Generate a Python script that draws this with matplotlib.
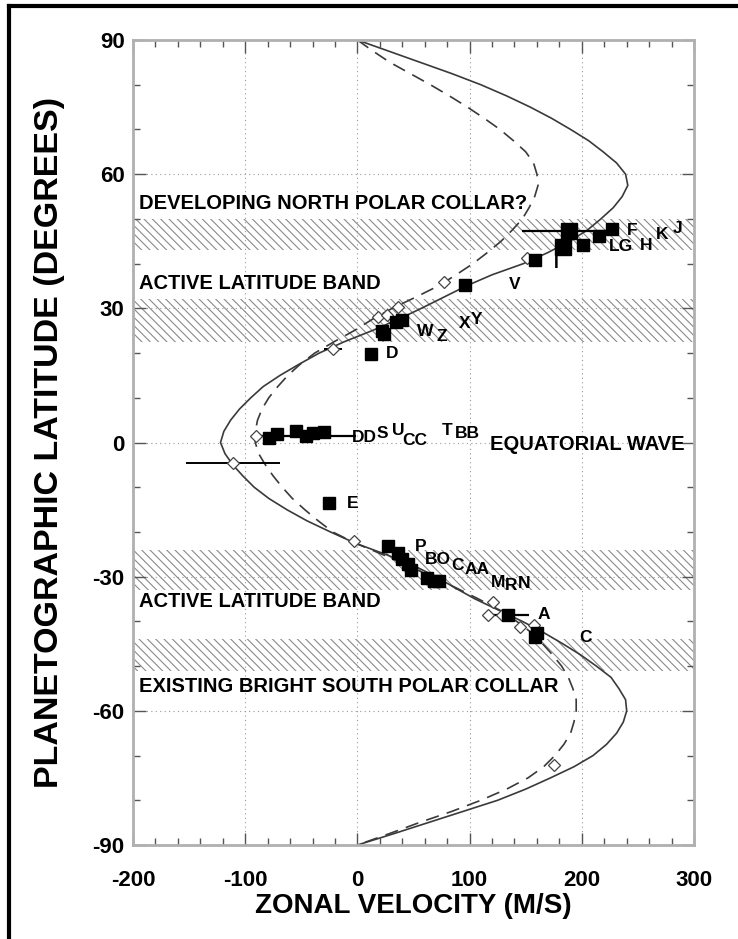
import numpy as np
import matplotlib
matplotlib.use("Agg")
import matplotlib.pyplot as plt

plt.rcParams['font.family'] = ['Liberation Sans', 'DejaVu Sans']
plt.rcParams['font.weight'] = 'bold'
plt.rcParams['hatch.linewidth'] = 0.8
plt.rcParams['axes.unicode_minus'] = False

# model profiles (every 2.5 degrees)
lat_grid = list(np.arange(90, -90.1, -2.5))
solid_u = [0, 28, 56, 84, 110, 133, 154, 173, 190, 206, 219, 231, 239, 241, 236, 228, 217, 205,
           189, 170, 148, 120, 97, 77, 57, 36, 13, -12, -34, -52, -69, -84, -95, -105, -113, -119,
           -122, -118, -111, -102, -92, -79, -63, -45, -24, -2, 25, 50, 70, 87, 105, 126, 147, 166,
           183, 199, 213, 226, 233, 239, 240, 237, 231, 222, 210, 193, 172, 150, 125, 94, 63, 32, 0]
dashed_u = [0, 14, 29, 47, 65, 82, 98, 113, 127, 139, 150, 157, 160, 161, 158, 153, 147, 138,
            128, 116, 103, 88, 72, 52, 31, 13, -3, -21, -38, -51, -62, -71, -79, -85, -89, -91,
            -91, -88, -82, -75, -67, -58, -47, -35, -22, -2, 22, 45, 66, 88, 108, 127, 142, 155,
            165, 174, 182, 188, 192, 195, 195, 193, 190, 184, 176, 166, 152, 133, 110, 84, 55, 28, 0]

# cloud features (filled squares)
sq_u = [227, 215, 201, 158, 96, 40, 34, 22, 24, 12,
        -79, -72, -55, -40, -30, -25,
        27, 36, 40, 45, 48, 62, 68, 73, 158, 160]
sq_lat = [47.8, 46.2, 44.1, 40.7, 35.3, 27.3, 27.0, 25.0, 24.2, 19.8,
          0.9, 1.9, 2.6, 2.2, 2.4, -13.6,
          -23.2, -24.7, -26.0, -27.2, -28.4, -30.4, -31.0, -30.9, -43.5, -42.6]
big_u = [189, 183]
big_lat = [47.3, 43.7]
# squares carrying an error bar
err_sq_u = [189, -46, 134.5]
err_sq_lat = [47.3, 1.5, -38.5]
err_sq_du = [42, 45, 18]

# diamonds
dia_u = [151, 77, 36, 18, 26, -21.5, -90, -111, -3, 121, 116, 129, 145, 157, 175]
dia_lat = [41.3, 35.8, 30.3, 28.0, 28.6, 20.8, 1.5, -4.6, -22.1, -35.6, -38.5, -38.5, -41.2, -40.9, -72]
dia_du = [0, 0, 0, 0, 0, 8, 0, 42, 3, 0, 0, 0, 0, 0, 3]

# feature labels
lab_txt = ["F", "LG", "H", "K", "J", "I", "V", "X", "Y", "W", "Z", "D",
           "DD", "S", "U", "CC", "T", "BB", "E",
           "P", "BO", "C", "AA", "M", "R", "N", "A", "C"]
lab_u = [245, 235, 257, 272, 285, 177, 140, 96, 106, 60, 75, 31,
         6, 22, 36, 51, 80, 98, -4.5,
         56, 72, 89.5, 106.5, 125, 137, 149, 166, 203]
lab_lat = [47.4, 43.8, 44.1, 46.4, 47.9, 40.0, 35.3, 26.6, 27.4, 24.8, 23.7, 19.8,
           1.1, 2.1, 2.6, 0.4, 2.6, 2.0, -13.6,
           -23.3, -26.2, -27.4, -28.5, -31.2, -32.0, -31.5, -38.5, -43.5]

# hatched latitude bands
band_lo = [43, 22.5, -33, -51]
band_hi = [50, 32, -24, -44]

notes = ["DEVELOPING NORTH POLAR COLLAR?", "ACTIVE LATITUDE BAND", "EQUATORIAL WAVE",
         "ACTIVE LATITUDE BAND", "EXISTING BRIGHT SOUTH POLAR COLLAR"]
note_u = [-195, -195, 118, -195, -195]
note_lat = [53.5, 35.5, -0.5, -35.5, -54.5]

fig = plt.figure(figsize=(7.38, 9.39), dpi=100)
ax = fig.add_axes([0.1802, 0.1001, 0.7602, 0.8573])

for lo, hi in zip(band_lo, band_hi):
    ax.axhspan(lo, hi, facecolor='white', edgecolor='#8a8a8a', hatch='\\\\\\\\', lw=0, zorder=0)

ax.plot(solid_u, lat_grid, color='#3a3a3a', lw=1.2, zorder=2)
ax.plot(dashed_u, lat_grid, color='#3a3a3a', lw=1.2, dashes=(8, 5), zorder=2)

ax.errorbar(err_sq_u, err_sq_lat, xerr=err_sq_du, fmt='none', ecolor='black', elinewidth=1.6,
            capsize=0, zorder=3)
ax.errorbar(dia_u, dia_lat, xerr=dia_du, fmt='none', ecolor='black', elinewidth=1.4,
            capsize=0, zorder=3)
ax.plot(dia_u, dia_lat, 'D', ms=6.5, mfc='white', mec='#444444', mew=0.9, zorder=4)
ax.plot(sq_u, sq_lat, 's', ms=9, color='black', zorder=5)
ax.plot(big_u, big_lat, 's', ms=12, color='black', zorder=5)
ax.plot(err_sq_u, err_sq_lat, 's', ms=9, color='black', zorder=5)

for t, u, la in zip(lab_txt, lab_u, lab_lat):
    ax.text(u, la, t, fontsize=12.5, fontweight='bold', ha='center', va='center', zorder=6)

for t, u, la in zip(notes, note_u, note_lat):
    ax.text(u, la, t, fontsize=14.5, fontweight='bold', ha='left', va='center', zorder=6)

ax.set_xlim(-200, 300)
ax.set_ylim(-90, 90)
ax.set_xticks([-200, -100, 0, 100, 200, 300])
ax.set_yticks([-90, -60, -30, 0, 30, 60, 90])
ax.set_xticks(np.arange(-200, 301, 20), minor=True)
ax.set_yticks(np.arange(-90, 91, 10), minor=True)
ax.grid(True, which='major', color='#999999', ls=(0, (1, 3)), lw=0.8)
ax.tick_params(which='both', direction='in', top=True, right=True, color='#555555')
ax.tick_params(which='major', length=9, width=1, labelsize=16)
ax.tick_params(axis='x', which='major', pad=18)
ax.tick_params(axis='y', which='major', pad=6)
ax.tick_params(which='minor', length=5, width=1)
for lbl in ax.get_xticklabels() + ax.get_yticklabels():
    lbl.set_fontweight('bold')
for s in ax.spines.values():
    s.set_color('#b0b0b0')
    s.set_linewidth(2)

ax.set_xlabel('ZONAL VELOCITY (M/S)', fontsize=20, fontweight='bold')
ax.set_ylabel('PLANETOGRAPHIC LATITUDE (DEGREES)', fontsize=24.5, fontweight='bold')
ax.xaxis.set_label_coords(0.5, -0.059)
ax.yaxis.set_label_coords(-0.121, 0.5)

# frame of the scanned figure (left and top edges)
fig.add_artist(plt.Line2D([0.012, 0.012], [0, 0.994], color='black', lw=3, transform=fig.transFigure))
fig.add_artist(plt.Line2D([0.012, 1], [0.994, 0.994], color='black', lw=3, transform=fig.transFigure))

fig.savefig('out.png', dpi=100)
